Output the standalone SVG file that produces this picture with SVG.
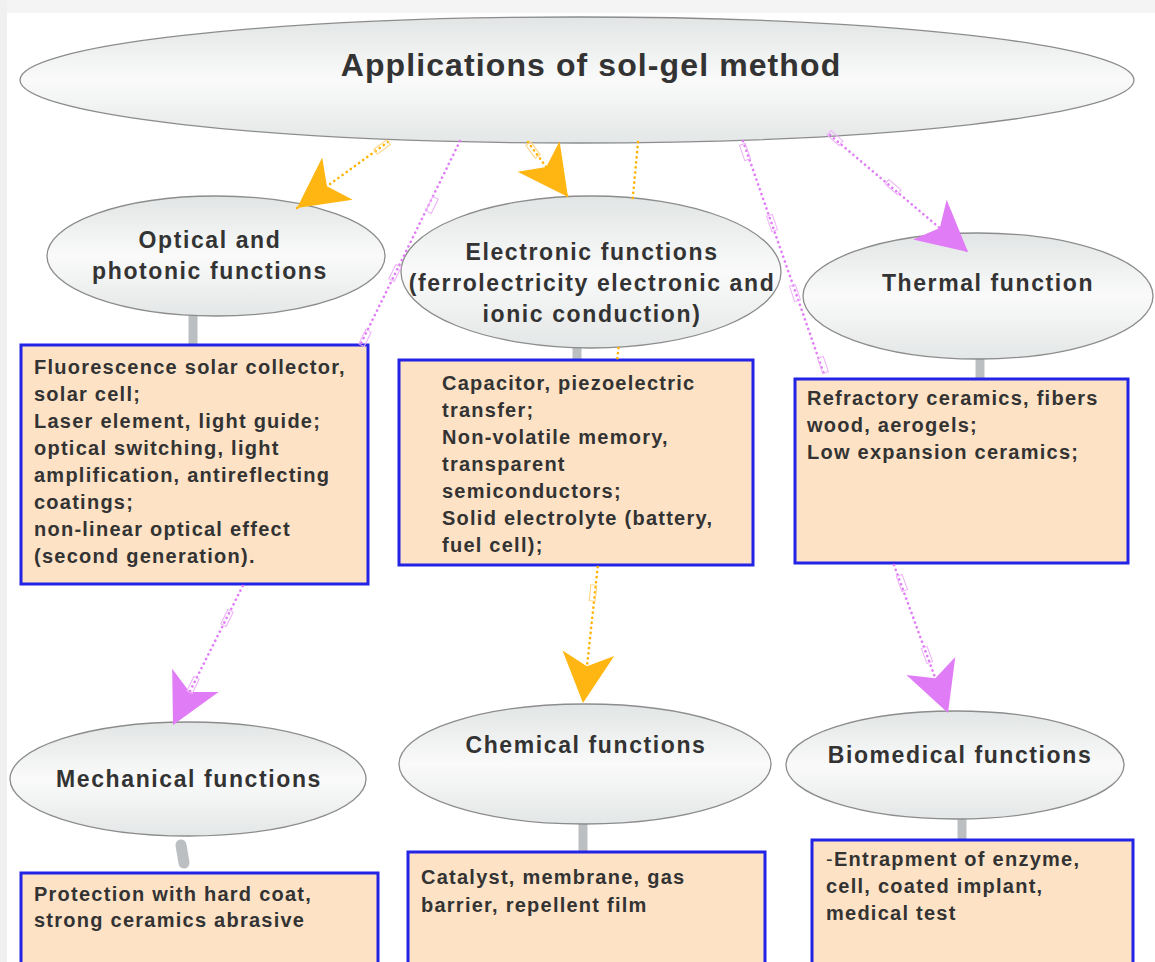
<svg xmlns="http://www.w3.org/2000/svg" width="1155" height="962" viewBox="0 0 1155 962">
<defs>
<linearGradient id="eg" x1="0" y1="0" x2="0" y2="1">
<stop offset="0" stop-color="#e2e5e5"/>
<stop offset="0.5" stop-color="#fafafa"/>
<stop offset="1" stop-color="#e4e7e7"/>
</linearGradient>
<marker id="ao" markerUnits="userSpaceOnUse" markerWidth="54" markerHeight="56" viewBox="-52 -28 54 56" refX="0" refY="0" orient="auto">
<path d="M0,0 L-50,-26 L-37,0 L-50,26 Z" fill="#ffb612"/>
</marker>
<marker id="am" markerUnits="userSpaceOnUse" markerWidth="54" markerHeight="56" viewBox="-52 -28 54 56" refX="0" refY="0" orient="auto">
<path d="M0,0 L-50,-26 L-37,0 L-50,26 Z" fill="#e07cf5"/>
</marker>
</defs>
<style>
.ell{fill:url(#eg);stroke:#8c8c8c;stroke-width:1.3}
.box{fill:#fde2c6;stroke:#2323e6;stroke-width:3}
.stub{stroke:#bbbfc1;stroke-width:9;fill:none}
.t{font-family:"Liberation Sans",Arial,sans-serif;font-weight:bold;fill:#333333}
.title{font-size:32px;letter-spacing:1.1px}
.lbl{font-size:23px;letter-spacing:1.6px}
.bt{font-size:20px;letter-spacing:1.25px}
.co{fill:none;stroke:#ffb300;stroke-width:2.6;stroke-dasharray:0.1 5;stroke-linecap:round}
.cm{fill:none;stroke:#e07cf5;stroke-width:2.6;stroke-dasharray:0.1 5;stroke-linecap:round}
.tagO{fill:none;stroke:#ffd27a;stroke-width:1}
.tagM{fill:none;stroke:#eeb0f8;stroke-width:1}
</style>
<rect x="0" y="0" width="1155" height="962" fill="#ffffff"/>
<rect x="0" y="0" width="1155" height="13" fill="#f4f4f4"/>
<rect x="0" y="0" width="7" height="962" fill="#f0f0f0"/>

<g id="stubs">
<line class="stub" x1="193" y1="314" x2="193" y2="345"/>
<line class="stub" x1="577" y1="345" x2="577" y2="360"/>
<line class="stub" x1="980" y1="335" x2="980" y2="379"/>
<line x1="181" y1="845" x2="184" y2="863" stroke="#bbbfc1" stroke-width="11" stroke-linecap="round"/>
<line class="stub" x1="583" y1="823" x2="583" y2="852"/>
<line class="stub" x1="962" y1="818" x2="962" y2="840"/>
</g>

<g id="node-root">
<ellipse class="ell" cx="577" cy="80" rx="557" ry="63"/>
<text class="t title" x="591" y="76" text-anchor="middle">Applications of sol-gel method</text>
</g>

<g id="node-optical">
<ellipse class="ell" cx="216" cy="256" rx="169" ry="60"/>
<text class="t lbl" x="210" y="248" text-anchor="middle">Optical and</text>
<text class="t lbl" x="210" y="279" text-anchor="middle">photonic functions</text>
</g>
<g id="node-optical-box">
<rect class="box" x="21" y="345" width="347" height="239"/>
<text class="t bt" x="34" y="374">Fluorescence solar collector,</text>
<text class="t bt" x="34" y="401">solar cell;</text>
<text class="t bt" x="34" y="428">Laser element, light guide;</text>
<text class="t bt" x="34" y="455">optical switching, light</text>
<text class="t bt" x="34" y="482">amplification, antireflecting</text>
<text class="t bt" x="34" y="509">coatings;</text>
<text class="t bt" x="34" y="536">non-linear optical effect</text>
<text class="t bt" x="34" y="563">(second generation).</text>
</g>

<g id="node-electronic">
<ellipse class="ell" cx="591" cy="272" rx="190" ry="76"/>
<text class="t lbl" x="592" y="260" text-anchor="middle">Electronic functions</text>
<text class="t lbl" x="592" y="291" text-anchor="middle">(ferrolectricity electronic and</text>
<text class="t lbl" x="592" y="322" text-anchor="middle">ionic conduction)</text>
</g>
<g id="node-electronic-box">
<rect class="box" x="399" y="360" width="354" height="205"/>
<text class="t bt" x="442" y="390">Capacitor, piezoelectric</text>
<text class="t bt" x="442" y="417">transfer;</text>
<text class="t bt" x="442" y="444">Non-volatile memory,</text>
<text class="t bt" x="442" y="471">transparent</text>
<text class="t bt" x="442" y="498">semiconductors;</text>
<text class="t bt" x="442" y="525">Solid electrolyte (battery,</text>
<text class="t bt" x="442" y="552">fuel cell);</text>
</g>

<g id="node-thermal">
<ellipse class="ell" cx="978" cy="296" rx="175" ry="63"/>
<text class="t lbl" x="988" y="291" text-anchor="middle">Thermal function</text>
</g>
<g id="node-thermal-box">
<rect class="box" x="795" y="379" width="333" height="184"/>
<text class="t bt" x="807" y="405">Refractory ceramics, fibers</text>
<text class="t bt" x="807" y="432">wood, aerogels;</text>
<text class="t bt" x="807" y="459">Low expansion ceramics;</text>
</g>

<g id="node-mechanical">
<ellipse class="ell" cx="188" cy="779" rx="178" ry="57"/>
<text class="t lbl" x="189" y="787" text-anchor="middle">Mechanical functions</text>
</g>
<g id="node-mechanical-box">
<rect class="box" x="21" y="873" width="357" height="100"/>
<text class="t bt" x="34" y="901">Protection with hard coat,</text>
<text class="t bt" x="34" y="927">strong ceramics abrasive</text>
</g>

<g id="node-chemical">
<ellipse class="ell" cx="585" cy="764" rx="186" ry="60"/>
<text class="t lbl" x="586" y="753" text-anchor="middle">Chemical functions</text>
</g>
<g id="node-chemical-box">
<rect class="box" x="408" y="852" width="357" height="120"/>
<text class="t bt" x="421" y="884">Catalyst, membrane, gas</text>
<text class="t bt" x="421" y="912">barrier, repellent film</text>
</g>

<g id="node-biomedical">
<ellipse class="ell" cx="955" cy="765" rx="169" ry="54"/>
<text class="t lbl" x="960" y="763" text-anchor="middle">Biomedical functions</text>
</g>
<g id="node-biomedical-box">
<rect class="box" x="812" y="840" width="321" height="130"/>
<text class="t bt" x="826" y="866"><tspan font-weight="normal">-</tspan>Entrapment of enzyme,</text>
<text class="t bt" x="826" y="893">cell, coated implant,</text>
<text class="t bt" x="826" y="920">medical test</text>
</g>

<g id="connectors">
<path class="co" d="M388,142 L297,208" marker-end="url(#ao)"/>
<path class="co" d="M528,142 L568,197" marker-end="url(#ao)"/>
<path class="co" d="M638,142 L632.8,198 M618.5,348 L617.3,359 M597.7,567 L583,703" marker-end="url(#ao)"/>
<path class="cm" d="M460,141 L360.7,344 M242.7,586 L173,725" marker-end="url(#am)"/>
<path class="cm" d="M743,141 L825,377 M894,565 L948,713" marker-end="url(#am)"/>
<path class="cm" d="M830,135 L968,252" marker-end="url(#am)"/>
<rect class="tagO" x="-3" y="-8" width="6" height="16" transform="translate(382,147) rotate(54)"/>
<rect class="tagO" x="-3" y="-8" width="6" height="16" transform="translate(533,150) rotate(-36)"/>
<rect class="tagO" x="-3" y="-8" width="6" height="16" transform="translate(593,593) rotate(6)"/>
<rect class="tagM" x="-3" y="-8" width="6" height="16" transform="translate(432,205) rotate(26)"/>
<rect class="tagM" x="-3" y="-8" width="6" height="16" transform="translate(395,273) rotate(26)"/>
<rect class="tagM" x="-3" y="-8" width="6" height="16" transform="translate(365,338) rotate(26)"/>
<rect class="tagM" x="-3" y="-8" width="6" height="16" transform="translate(227,618) rotate(26)"/>
<rect class="tagM" x="-3" y="-8" width="6" height="16" transform="translate(193,685) rotate(26)"/>
<rect class="tagM" x="-3" y="-8" width="6" height="16" transform="translate(745,152) rotate(-19)"/>
<rect class="tagM" x="-3" y="-8" width="6" height="16" transform="translate(772,223) rotate(-19)"/>
<rect class="tagM" x="-3" y="-8" width="6" height="16" transform="translate(795,293) rotate(-19)"/>
<rect class="tagM" x="-3" y="-8" width="6" height="16" transform="translate(823,365) rotate(-19)"/>
<rect class="tagM" x="-3" y="-8" width="6" height="16" transform="translate(902,583) rotate(-20)"/>
<rect class="tagM" x="-3" y="-8" width="6" height="16" transform="translate(927,655) rotate(-20)"/>
<rect class="tagM" x="-3" y="-8" width="6" height="16" transform="translate(835,138) rotate(-49)"/>
<rect class="tagM" x="-3" y="-8" width="6" height="16" transform="translate(893,187) rotate(-49)"/>
</g>
</svg>
